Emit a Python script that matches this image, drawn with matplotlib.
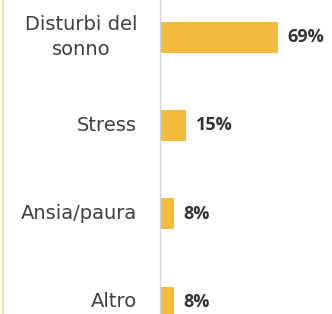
import matplotlib.pyplot as plt
from matplotlib.lines import Line2D

plt.rcParams['font.family'] = ['Open Sans', 'DejaVu Sans']

categories = ['Disturbi del\nsonno', 'Stress', 'Ansia/paura', 'Altro']
values = [69, 15, 8, 8]
value_labels = ['69%', '15%', '8%', '8%']

fig = plt.figure(figsize=(3.32, 3.14), dpi=100)
ax = fig.add_axes([160 / 332, 0, 172 / 332, 1])

ypos = list(range(len(categories)))
ax.barh(ypos, values, height=0.35, color='#F4BA3E')
ax.set_xlim(0, 101)
ax.set_ylim(3.136, -0.42)

for y, v, lab in zip(ypos, values, value_labels):
    ax.text(v + 6, y, lab, va='center', ha='left', fontsize=13,
            fontweight='bold', color='#333333')

for y, cat in zip(ypos, categories):
    ax.text(-13.5, y, cat, va='center', ha='right', multialignment='center',
            fontsize=14, color='#404040', linespacing=1.4,
            family='DejaVu Sans')

for s in ['top', 'right', 'bottom']:
    ax.spines[s].set_visible(False)
ax.spines['left'].set_color('#d4d4d4')
ax.spines['left'].set_linewidth(1)
ax.set_xticks([])
ax.set_yticks([])
ax.patch.set_alpha(0)

# faint frame line on the left edge
fig.add_artist(Line2D([3.5 / 332, 3.5 / 332], [0, 1], color='#F2DFA8',
                      linewidth=1.5, transform=fig.transFigure))

fig.savefig('out.png', dpi=100)
